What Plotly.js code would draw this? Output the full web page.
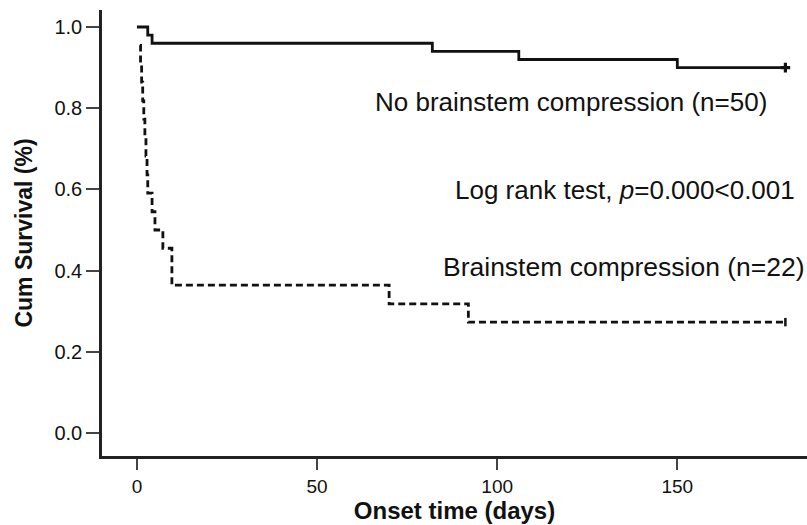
<!DOCTYPE html>
<html>
<head>
<meta charset="utf-8">
<script src="https://cdn.plot.ly/plotly-3.0.1.min.js"></script>
<style>html,body{margin:0;padding:0;background:#fff;}#chart{width:807px;height:525px;}</style>
</head>
<body>
<div id="chart"></div>
<script>
// No brainstem compression (n=50): step times (days) and cumulative survival
const noCompTime = [0, 3, 4.2, 82, 106, 150, 180];
const noCompSurv = [1.0, 0.98, 0.96, 0.94, 0.92, 0.90, 0.90];

// Brainstem compression (n=22)
const compTime = [0.8, 1.0, 1.3, 1.6, 1.9, 2.2, 2.5, 2.8, 3.0, 4.2, 5.0, 7.2, 9.7, 70, 92, 180];
const compSurv = [0.955, 0.909, 0.864, 0.818, 0.773, 0.727, 0.682, 0.636, 0.591, 0.545, 0.500, 0.455, 0.364, 0.318, 0.273, 0.273];

// Censored at end of follow-up
const censorTimeNo = [180];
const censorSurvNo = [0.90];
const censorTimeComp = [180];
const censorSurvComp = [0.273];

const xTicks = [0, 50, 100, 150];
const yTicks = [0.0, 0.2, 0.4, 0.6, 0.8, 1.0];
const yTickText = ['0.0', '0.2', '0.4', '0.6', '0.8', '1.0'];

const font = 'Liberation Sans, Arial, sans-serif';

const traces = [
  {x: noCompTime, y: noCompSurv, mode: 'lines', line: {shape: 'hv', color: '#111', width: 2.8}, hoverinfo: 'skip'},
  {x: compTime, y: compSurv, mode: 'lines', line: {shape: 'hv', color: '#111', width: 2.8, dash: '7px,4px'}, hoverinfo: 'skip'},
  {x: censorTimeNo, y: censorSurvNo, mode: 'markers', marker: {symbol: 'cross', size: 8, color: '#111'}, hoverinfo: 'skip'},
  {x: censorTimeComp, y: censorSurvComp, mode: 'markers', marker: {symbol: 'line-ns-open', size: 6, color: '#111', line: {color: '#111', width: 2.5}}, hoverinfo: 'skip'}
];

const layout = {
  width: 807, height: 525,
  margin: {l: 102, r: 0, t: 10, b: 69},
  paper_bgcolor: '#fff', plot_bgcolor: '#fff',
  showlegend: false,
  font: {family: font, color: '#111'},
  xaxis: {
    range: [-9.7, 186], showgrid: false, zeroline: false,
    showline: true, linecolor: '#222', linewidth: 2.8,
    ticks: 'outside', ticklen: 11, tickwidth: 2, tickcolor: '#444',
    tickvals: xTicks, tickfont: {size: 19, family: font, color: '#111'},
    ticklabelstandoff: 0,
    title: {text: '<b>Onset time (days)</b>', font: {size: 24, family: font, color: '#111'}, standoff: 6}
  },
  yaxis: {
    range: [-0.0567, 1.0419], showgrid: false, zeroline: false,
    showline: true, linecolor: '#222', linewidth: 2.8,
    ticks: 'outside', ticklen: 13, tickwidth: 2, tickcolor: '#444',
    tickvals: yTicks, ticktext: yTickText, tickfont: {size: 20, family: font, color: '#111'},
    ticklabelstandoff: 0,
    title: {text: '<b>Cum Survival (%)</b>', font: {size: 23, family: font, color: '#111'}, standoff: 16}
  },
  annotations: [
    {x: 120.6, y: 0.815, xref: 'x', yref: 'y', text: 'No brainstem compression (n=50)', showarrow: false, xanchor: 'center', yanchor: 'middle', font: {size: 26, family: font, color: '#111'}},
    {x: 183.3, y: 0.598, xref: 'x', yref: 'y', text: 'Log rank test, <i>p</i>=0.000<0.001', showarrow: false, xanchor: 'right', yanchor: 'middle', font: {size: 26, family: font, color: '#111'}},
    {x: 84.5, y: 0.41, xref: 'x', yref: 'y', text: 'Brainstem compression (n=22)', showarrow: false, xanchor: 'left', yanchor: 'middle', font: {size: 26.5, family: font, color: '#111'}}
  ]
};

Plotly.newPlot('chart', traces, layout, {displayModeBar: false, staticPlot: true});
</script>
</body>
</html>
